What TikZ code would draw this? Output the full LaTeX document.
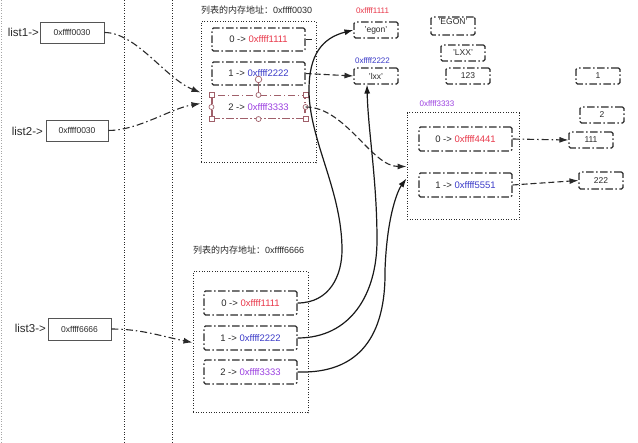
\documentclass[tikz,border=0pt]{standalone}
\usepackage{fontspec}
\setmainfont{Liberation Sans}
\newfontfamily\cjk{Noto Sans CJK SC}
\usetikzlibrary{arrows.meta,calc}
\definecolor{addrred}{HTML}{E8384A}
\definecolor{addrblue}{HTML}{3B3BC8}
\definecolor{addrpurple}{HTML}{9B3FE0}
\definecolor{ink}{HTML}{2A2A2A}
\definecolor{selcol}{HTML}{A0606A}
\tikzset{
  listbox/.style={draw=ink!80, line width=0.7pt, minimum width=64pt, minimum height=21pt,
    inner sep=0pt, font=\fontsize{8.5}{10}\selectfont, text=ink},
  listlabel/.style={font=\fontsize{11.5}{13}\selectfont, text=ink, inner sep=0pt},
  cell/.style={draw=ink, line width=1.1pt, dash pattern=on 7.5pt off 2.5pt on 1.5pt off 2.5pt,
    rounded corners=1.5pt, minimum width=93pt, minimum height=23pt, inner sep=0pt,
    font=\fontsize{9.5}{11}\selectfont, text=ink},
  valbox/.style={cell, minimum width=44pt, minimum height=16pt, font=\fontsize{8.5}{10}\selectfont},
  frame/.style={draw=ink, line width=1pt, dash pattern=on 1pt off 1.6pt, inner sep=0pt},
  addr/.style={font=\fontsize{8}{10}\selectfont, inner sep=0pt},
  title/.style={font=\fontsize{9}{10}\selectfont, text=ink, inner sep=0pt, anchor=west},
  sep/.style={draw=ink, line width=0.9pt, dash pattern=on 1pt off 1.6pt},
  dashdot/.style={draw=ink, line width=1.1pt, dash pattern=on 7pt off 3pt on 1.5pt off 3pt,
    -{Latex[length=9pt,width=6pt]}},
  dashline/.style={draw=ink, line width=1.1pt, dash pattern=on 6pt off 3pt,
    -{Latex[length=9pt,width=6pt]}},
  solidline/.style={draw=black!90, line width=1.2pt, -{Latex[length=9pt,width=6pt]}},
  handle/.style={draw=selcol, fill=white, line width=0.7pt, inner sep=0pt, minimum size=5pt},
}
\begin{document}
\begin{tikzpicture}[x=1pt,y=-1pt]
  \useasboundingbox (0,0) rectangle (638,443);
  % column separators
  \draw[sep, draw=black!35] (1,0) -- (1,443);
  \draw[sep] (124,0) -- (124,443);
  \draw[sep] (172,0) -- (172,443);

  % variables
  \node[listbox] (list1) at (72,32.5) {0xffff0030};
  \node[listlabel, anchor=east] (lab1) at (39,32) {list1->};
  \node[listbox, minimum width=62pt] (list2) at (77,130.5) {0xffff0030};
  \node[listlabel, anchor=east] (lab2) at (43,131) {list2->};
  \node[listbox, minimum width=63pt, minimum height=22pt] (list3) at (79.5,329) {0xffff6666};
  \node[listlabel, anchor=east] (lab3) at (46,328) {list3->};

  % list at 0xffff0030
  \node[title] (t0030) at (201,10) {{\cjk 列表的内存地址：}0xffff0030};
  \node[frame, minimum width=115pt, minimum height=141pt] (lst0030) at (258.5,92.5) {};
  \node[cell] (c0) at (258.5,39.5) {0 -> \textcolor{addrred}{0xffff1111}};
  \node[cell] (c1) at (258.5,73.5) {1 -> \textcolor{addrblue}{0xffff2222}};
  \node[cell, draw=selcol, rounded corners=0pt] (c2) at (258.5,107) {2 -> \textcolor{addrpurple}{0xffff3333}};
  \node[handle, circle, minimum size=6.5pt] (rot) at ($(c2.north)+(0,-15.5)$) {};
  \draw[selcol, line width=0.7pt] (rot) -- (c2.north);
  \foreach \a in {north west,north east,south west,south east}
    \node[handle] at (c2.\a) {};
  \foreach \a in {north,south,east,west}
    \node[handle, circle] at (c2.\a) {};

  % strings and numbers
  \node[addr, text=addrred] (a1111) at (372.5,11) {0xffff1111};
  \node[valbox] (egon) at (376,30) {'egon'};
  \node[addr, text=addrblue] (a2222) at (372.5,61) {0xffff2222};
  \node[valbox] (lxx) at (376,76) {'lxx'};
  \node[valbox, minimum height=18pt, text height=6pt, text depth=9pt] (EGON) at (453,26) {'EGON'};
  \node[valbox] (LXX) at (463,53) {'LXX'};
  \node[valbox] (v123) at (468,76) {123};
  \node[valbox] (v1) at (598,76) {1};
  \node[valbox] (v2) at (602,115) {2};
  \node[valbox] (v111) at (591,140) {111};
  \node[valbox, minimum height=17pt] (v222) at (601,180.5) {222};

  % list at 0xffff3333
  \node[addr, text=addrpurple] (a3333) at (437,104) {0xffff3333};
  \node[frame, minimum width=112pt, minimum height=107pt] (lst3333) at (463,166.5) {};
  \node[cell, minimum height=24pt] (d0) at (465.5,139) {0 -> \textcolor{addrred}{0xffff4441}};
  \node[cell, minimum height=24pt] (d1) at (465.5,185) {1 -> \textcolor{addrblue}{0xffff5551}};

  % list at 0xffff6666
  \node[title] (t6666) at (193,250) {{\cjk 列表的内存地址：}0xffff6666};
  \node[frame, minimum width=115pt, minimum height=141pt] (lst6666) at (250.5,342.5) {};
  \node[cell, minimum height=24pt] (e0) at (250.5,303) {0 -> \textcolor{addrred}{0xffff1111}};
  \node[cell, minimum height=24pt] (e1) at (250.5,338) {1 -> \textcolor{addrblue}{0xffff2222}};
  \node[cell, minimum height=24pt] (e2) at (250.5,372) {2 -> \textcolor{addrpurple}{0xffff3333}};

  % references
  \draw[dashdot] (list1.east) .. controls +(32,0) and +(-35,-14) .. (lst0030.west);
  \draw[dashdot] (list2.east) .. controls +(30,0) and +(-30,5) .. ([yshift=-11pt]lst0030.west);
  \draw[dashdot] (list3.east) .. controls +(30,0) and +(-30,-6) .. (lst6666.west);
  \draw[dashline, -] (c0.east) -- +(9,0);
  \draw[dashline] (c1.east) -- (lxx.west);
  \draw[dashline] (c2.east) .. controls +(40,0) and +(-35,0) .. (lst3333.west);
  \draw[dashdot] (d0.east) -- (v111.west);
  \draw[dashline] (d1.east) -- (v222.west);
  \draw[solidline] (e0.east) .. controls (330,303) and (342,275) .. (342,250)
    .. controls (342,190) and (309,140) .. (309,90)
    .. controls (309,55) and (322,38) .. (egon.west);
  \draw[solidline] (e1.east) .. controls (350,338) and (377,295) .. (377,240)
    .. controls (377,180) and (368,130) .. ([xshift=-9pt]lxx.south);
  \draw[solidline] (e2.east) .. controls (360,374) and (386,335) .. (385,270)
    .. controls (387,215) and (398,190) .. ([yshift=-12pt]lst3333.west);
\end{tikzpicture}
\end{document}
